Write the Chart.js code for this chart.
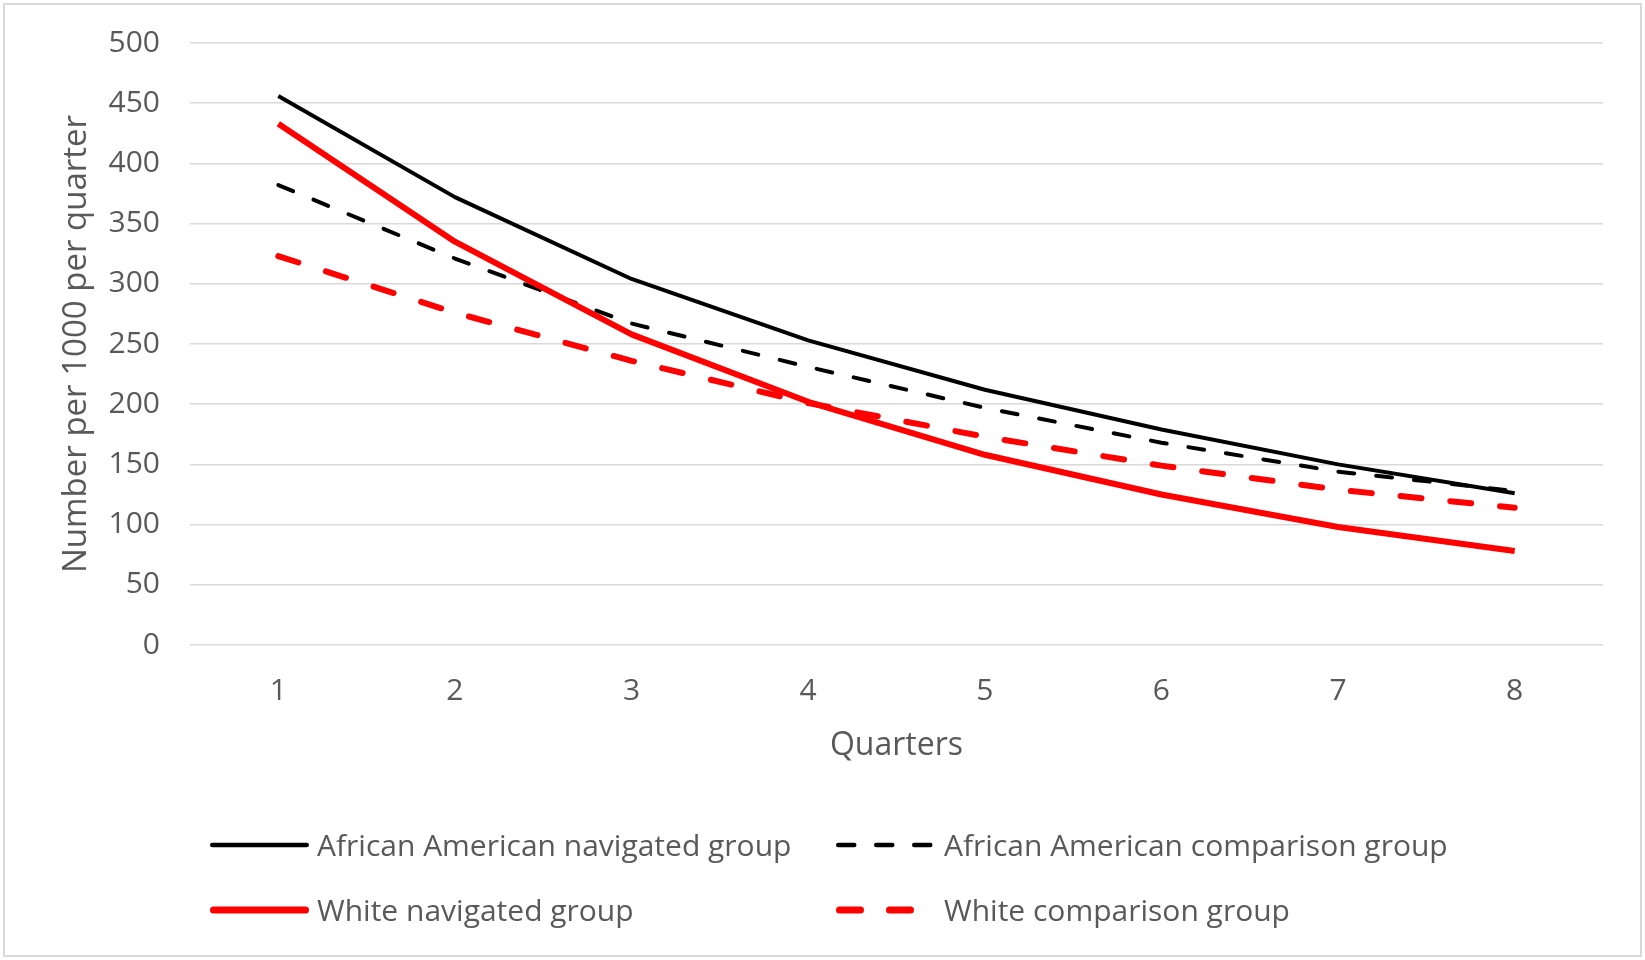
<!DOCTYPE html>
<html>
<head>
<meta charset="utf-8">
<script src="https://cdn.jsdelivr.net/npm/chart.js@4/dist/chart.umd.min.js"></script>
<style>
  html, body { margin: 0; padding: 0; background: #ffffff; }
  #wrap { position: relative; width: 1645px; height: 960px; }
</style>
</head>
<body>
<div id="wrap"><canvas id="c" width="1645" height="960"></canvas></div>
<script>
// Quarter numbers along the x axis
const quarters = ['1', '2', '3', '4', '5', '6', '7', '8'];

// Number per 1000 per quarter, by group
const aaNavigated  = [456, 372, 304, 253, 212, 179, 150, 126];
const aaComparison = [382, 321, 267, 231, 197, 168, 144, 128];
const whNavigated  = [433, 335, 258, 202, 158, 125, 98, 78];
const whComparison = [323, 276, 236, 201, 173, 149, 129, 114];

const seriesNames = [
  'African American navigated group',
  'African American comparison group',
  'White navigated group',
  'White comparison group'
];

const FONT = '"Open Sans", Lato, sans-serif';
const TEXT = '#595959';

// Border around the whole chart
const frame = {
  id: 'frame',
  beforeDraw(chart) {
    const ctx = chart.ctx;
    ctx.save();
    ctx.fillStyle = '#ffffff';
    ctx.fillRect(0, 0, chart.width, chart.height);
    ctx.strokeStyle = '#d9d9d9';
    ctx.lineWidth = 2;
    ctx.strokeRect(4, 4, chart.width - 8, chart.height - 8);
    ctx.restore();
  }
};

// Two-column legend under the axis title
const gridLegend = {
  id: 'gridLegend',
  afterDraw(chart) {
    const ctx = chart.ctx;
    const cols = [{ lx: 210, lw: 99, tx: 317 }, { lx: 836, lw: 98, tx: 944 }];
    const rows = [847, 912];
    chart.data.datasets.forEach((ds, i) => {
      const col = cols[i % 2];
      const y = rows[Math.floor(i / 2)];
      ctx.save();
      ctx.strokeStyle = ds.borderColor;
      ctx.lineWidth = ds.legendWidth;
      ctx.lineCap = 'round';
      ctx.setLineDash(ds.borderDash || []);
      ctx.beginPath();
      const cap = ds.legendWidth / 2;
      ctx.moveTo(col.lx + cap, y - 2);
      ctx.lineTo(col.lx + col.lw - cap, y - 2);
      ctx.stroke();
      ctx.setLineDash([]);
      ctx.fillStyle = TEXT;
      ctx.font = '30px ' + FONT;
      ctx.textBaseline = 'middle';
      ctx.textAlign = 'left';
      ctx.fillText(ds.label, col.tx, y);
      ctx.restore();
    });
  }
};

new Chart(document.getElementById('c'), {
  type: 'line',
  data: {
    labels: quarters,
    datasets: [
      { label: seriesNames[0], data: aaNavigated, borderColor: '#000000', borderWidth: 4, legendWidth: 4.5, order: 4 },
      { label: seriesNames[1], data: aaComparison, borderColor: '#000000', borderWidth: 4, legendWidth: 4.5, borderDash: [16, 22], borderCapStyle: 'round', order: 3 },
      { label: seriesNames[2], data: whNavigated, borderColor: '#ff0000', borderWidth: 6, legendWidth: 7, order: 2 },
      { label: seriesNames[3], data: whComparison, borderColor: '#ff0000', borderWidth: 6, legendWidth: 7, borderDash: [21, 29], borderCapStyle: 'round', order: 1 }
    ].map(d => Object.assign({ fill: false, tension: 0, pointRadius: 0, pointHoverRadius: 0, borderJoinStyle: 'round' }, d))
  },
  options: {
    responsive: false,
    animation: false,
    layout: { padding: { top: 43, right: 42, bottom: 195, left: 0 } },
    plugins: {
      legend: { display: false },
      tooltip: { enabled: false }
    },
    scales: {
      x: {
        offset: true,
        grid: { display: false, drawTicks: false },
        border: { display: false },
        ticks: { color: TEXT, font: { family: FONT, size: 30 }, padding: 28 },
        title: { display: true, text: 'Quarters', color: TEXT, font: { family: FONT, size: 32 }, padding: 0 },
        afterFit(s) { s.height = 120; }
      },
      y: {
        min: 0,
        max: 500,
        grid: { color: '#d9d9d9', lineWidth: 1.5, drawTicks: false },
        border: { display: false },
        ticks: { stepSize: 50, color: TEXT, font: { family: FONT, size: 30 }, padding: 30 },
        title: { display: true, text: 'Number per 1000 per quarter', color: TEXT, font: { family: FONT, size: 33 }, padding: { top: 57, bottom: 0 } },
        afterFit(s) {
          s.width = 190;
          // the outer layout padding already leaves room for the end labels
          s.paddingTop = 0;
          s.paddingBottom = 0;
        }
      }
    }
  },
  plugins: [frame, gridLegend]
});
</script>
</body>
</html>
